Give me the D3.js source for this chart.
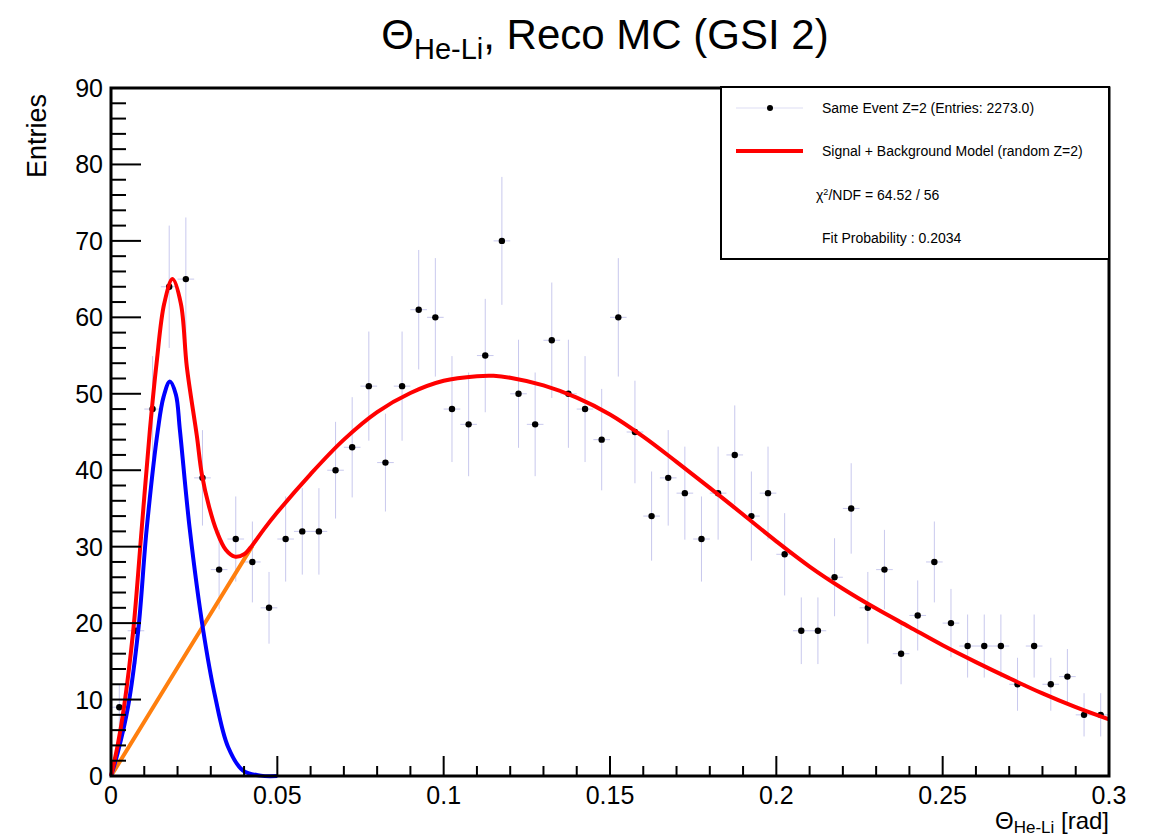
<!DOCTYPE html>
<html>
<head>
<meta charset="utf-8">
<script src="https://cdn.jsdelivr.net/npm/d3@7"></script>
<style>
  body { margin: 0; background: #fff; }
  svg text { font-family: "Liberation Sans", Arial, sans-serif; }
</style>
</head>
<body>
<div id="container"></div>
<script>
// histogram: 60 bins of 0.005 rad between 0 and 0.3
const binLow = 0;
const binWidth = 0.005;
const counts = [9, 19, 48, 64, 65, 39, 27, 31, 28, 22,
                31, 32, 32, 40, 43, 51, 41, 51, 61, 60,
                48, 46, 55, 70, 50, 46, 57, 50, 48, 44,
                60, 45, 34, 39, 37, 31, 37, 42, 34, 37,
                29, 19, 19, 26, 35, 22, 27, 16, 21, 28,
                20, 17, 17, 17, 12, 17, 12, 13, 8, 8];

// fit curves
const totalX = [0, 0.002, 0.0039, 0.0067, 0.0092, 0.0117, 0.0137, 0.016, 0.0185, 0.021, 0.0228, 0.0258, 0.0273,
                0.0295, 0.0318, 0.0345, 0.0372, 0.040, 0.0425, 0.046, 0.05, 0.06, 0.07, 0.08, 0.09, 0.10,
                0.11, 0.115, 0.12, 0.13, 0.14, 0.15, 0.16, 0.17, 0.18, 0.19, 0.20, 0.21, 0.22, 0.23, 0.24,
                0.25, 0.26, 0.27, 0.28, 0.29, 0.30];
const totalY = [0, 4, 9, 19.1, 32.2, 45.3, 54, 61.8, 65, 61.8, 53.5, 44.5, 39.5,
                35.2, 32.0, 29.6, 28.7, 29.0, 30.2, 32.3, 34.5, 39.5, 44.0, 47.6, 50.1, 51.7,
                52.3, 52.35, 52.1, 51.1, 49.5, 47.3, 44.4, 41.1, 37.7, 34.2, 30.7, 27.4, 24.5, 21.9, 19.5,
                17.1, 14.9, 12.8, 10.8, 9.0, 7.4];
const signalX = [0, 0.002, 0.0051, 0.0082, 0.0107, 0.0141, 0.0158, 0.0177, 0.0195, 0.0207, 0.0237, 0.0277,
                 0.0313, 0.0352, 0.0397, 0.045, 0.05];
const signalY = [0, 3, 9, 19.1, 32.2, 45.3, 49.6, 51.6, 49.9, 45.3, 32.2, 19.1,
                 10.4, 3.8, 0.7, 0.05, 0];
const bkgX = [0, 0.02, 0.0425];
const bkgY = [0, 14.2, 30.1];

const xTicks = [0, 0.05, 0.1, 0.15, 0.2, 0.25, 0.3];
const yTicks = [0, 10, 20, 30, 40, 50, 60, 70, 80, 90];

const legendLines = ["Same Event Z=2 (Entries: 2273.0)", "Signal + Background Model (random Z=2)"];
const chiText = "/NDF = 64.52 / 56";
const probText = "Fit Probability : 0.2034";

const width = 1151, height = 839;
const margin = {top: 88, right: 42, bottom: 63, left: 111};

const x = d3.scaleLinear()
    .domain([0, 0.3])
    .range([margin.left, width - margin.right]);
const y = d3.scaleLinear()
    .domain([0, 90])
    .range([height - margin.bottom, margin.top]);

const svg = d3.select("#container").append("svg")
    .attr("width", width)
    .attr("height", height);

// error bars
const bins = counts.map((c, i) => ({
    lo: binLow + i * binWidth,
    hi: binLow + (i + 1) * binWidth,
    mid: binLow + (i + 0.5) * binWidth,
    n: c,
    err: Math.sqrt(c)
}));

const errG = svg.append("g")
    .attr("stroke", "#9a9ade")
    .attr("stroke-opacity", 0.55)
    .attr("stroke-width", 1);

errG.selectAll("line.v")
    .data(bins)
    .join("line")
    .attr("class", "v")
    .attr("x1", d => x(d.mid))
    .attr("x2", d => x(d.mid))
    .attr("y1", d => y(d.n + d.err))
    .attr("y2", d => y(Math.max(0, d.n - d.err)));

errG.selectAll("line.h")
    .data(bins)
    .join("line")
    .attr("class", "h")
    .attr("x1", d => x(d.lo))
    .attr("x2", d => x(d.hi))
    .attr("y1", d => y(d.n))
    .attr("y2", d => y(d.n));

svg.append("g")
    .selectAll("circle")
    .data(bins)
    .join("circle")
    .attr("cx", d => x(d.mid))
    .attr("cy", d => y(d.n))
    .attr("r", 3.2)
    .attr("fill", "#000");

// curves
const line = d3.line()
    .x(d => x(d[0]))
    .y(d => y(d[1]))
    .curve(d3.curveCatmullRom.alpha(0.5));

svg.append("path")
    .datum(d3.zip(bkgX, bkgY))
    .attr("fill", "none")
    .attr("stroke", "#ff7f0e")
    .attr("stroke-width", 4)
    .attr("d", line);

svg.append("path")
    .datum(d3.zip(signalX, signalY))
    .attr("fill", "none")
    .attr("stroke", "#0000ff")
    .attr("stroke-width", 4)
    .attr("d", line);

svg.append("path")
    .datum(d3.zip(totalX, totalY))
    .attr("fill", "none")
    .attr("stroke", "#ff0000")
    .attr("stroke-width", 4)
    .attr("d", line);

// frame
svg.append("rect")
    .attr("x", x(0))
    .attr("y", y(90))
    .attr("width", x(0.3) - x(0))
    .attr("height", y(0) - y(90))
    .attr("fill", "none")
    .attr("stroke", "#000")
    .attr("stroke-width", 3);

// y axis ticks (inside)
const yMinor = d3.range(0, 90.01, 2);
svg.append("g")
    .selectAll("line")
    .data(yMinor)
    .join("line")
    .attr("x1", x(0))
    .attr("x2", d => x(0) + (d % 10 === 0 ? 30 : 15))
    .attr("y1", d => y(d))
    .attr("y2", d => y(d))
    .attr("stroke", "#000")
    .attr("stroke-width", 2);

svg.append("g")
    .selectAll("text")
    .data(yTicks)
    .join("text")
    .attr("x", x(0) - 8)
    .attr("y", d => y(d))
    .attr("dy", "0.36em")
    .attr("text-anchor", "end")
    .attr("font-size", 25)
    .text(d => d);

// x axis ticks (inside)
const xMinor = d3.range(0, 31).map(i => i / 100);
svg.append("g")
    .selectAll("line")
    .data(xMinor)
    .join("line")
    .attr("x1", d => x(d))
    .attr("x2", d => x(d))
    .attr("y1", y(0))
    .attr("y2", (d, i) => y(0) - (i % 5 === 0 ? 20 : 10))
    .attr("stroke", "#000")
    .attr("stroke-width", 2);

svg.append("g")
    .selectAll("text")
    .data(xTicks)
    .join("text")
    .attr("x", d => x(d))
    .attr("y", y(0) + 28)
    .attr("text-anchor", "middle")
    .attr("font-size", 25)
    .text(d => d3.format("")(d));

// axis titles
svg.append("text")
    .attr("transform", `translate(46, ${margin.top + 6}) rotate(-90)`)
    .attr("text-anchor", "end")
    .attr("font-size", 27)
    .text("Entries");

const xt = svg.append("text")
    .attr("x", x(0.3))
    .attr("y", 829)
    .attr("text-anchor", "end")
    .attr("font-size", 24);
xt.append("tspan").text("Θ");
xt.append("tspan").attr("font-size", 17).attr("dy", 4).text("He-Li");
xt.append("tspan").attr("dy", -4).text(" [rad]");

// title
const tt = svg.append("text")
    .attr("x", 605)
    .attr("y", 49)
    .attr("text-anchor", "middle")
    .attr("font-size", 42);
tt.append("tspan").text("Θ");
tt.append("tspan").attr("font-size", 29).attr("dy", 10).text("He-Li");
tt.append("tspan").attr("dy", -10).text(", Reco MC (GSI 2)");

// legend
const lg = svg.append("g");
lg.append("rect")
    .attr("x", 721)
    .attr("y", 87)
    .attr("width", 388)
    .attr("height", 172)
    .attr("fill", "#fff")
    .attr("stroke", "#000")
    .attr("stroke-width", 2);

lg.append("line")
    .attr("x1", 736).attr("x2", 803)
    .attr("y1", 108).attr("y2", 108)
    .attr("stroke", "#9a9ade").attr("stroke-opacity", 0.35).attr("stroke-width", 1);
lg.append("circle")
    .attr("cx", 770).attr("cy", 108).attr("r", 3)
    .attr("fill", "#000");
lg.append("line")
    .attr("x1", 736).attr("x2", 803)
    .attr("y1", 151).attr("y2", 151)
    .attr("stroke", "#ff0000").attr("stroke-width", 4);

lg.selectAll("text.entry")
    .data(legendLines)
    .join("text")
    .attr("class", "entry")
    .attr("x", 822)
    .attr("y", (d, i) => 108 + i * 43)
    .attr("dy", "0.35em")
    .attr("font-size", 14)
    .text(d => d);

const chi = lg.append("text")
    .attr("x", 816)
    .attr("y", 195)
    .attr("dy", "0.35em")
    .attr("font-size", 14);
chi.append("tspan").text("χ");
chi.append("tspan").attr("font-size", 9).attr("dy", -5).text("2");
chi.append("tspan").attr("dy", 5).text(chiText);

lg.append("text")
    .attr("x", 822)
    .attr("y", 238)
    .attr("dy", "0.35em")
    .attr("font-size", 14)
    .text(probText);
</script>
</body>
</html>
